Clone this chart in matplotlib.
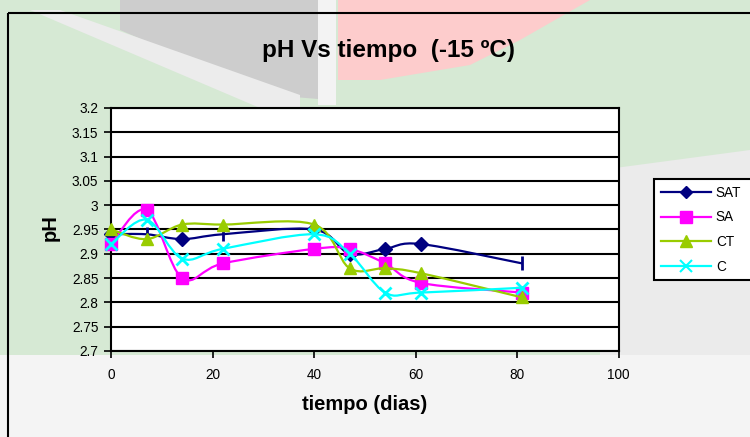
import matplotlib.pyplot as plt
import numpy as np
from matplotlib.path import Path
from matplotlib.patches import PathPatch, Rectangle, Polygon
from matplotlib.lines import Line2D

plt.rcParams['font.family'] = ['Liberation Sans', 'DejaVu Sans']

# days of storage
dias = [0, 7, 14, 22, 40, 47, 54, 61, 81]

# pH per treatment
ph_sat = [2.94, 2.94, 2.93, 2.94, 2.95, 2.90, 2.91, 2.92, 2.88]
ph_sa = [2.92, 2.99, 2.85, 2.88, 2.91, 2.91, 2.88, 2.84, 2.82]
ph_ct = [2.95, 2.93, 2.96, 2.96, 2.96, 2.87, 2.87, 2.86, 2.81]
ph_c = [2.92, 2.97, 2.89, 2.91, 2.94, 2.90, 2.82, 2.82, 2.83]

series_names = ['SAT', 'SA', 'CT', 'C']
y_ticks = [2.7, 2.75, 2.8, 2.85, 2.9, 2.95, 3.0, 3.05, 3.1, 3.15, 3.2]
y_tick_labels = ['2.7', '2.75', '2.8', '2.85', '2.9', '2.95', '3', '3.05', '3.1', '3.15', '3.2']
x_ticks = [0, 20, 40, 60, 80, 100]


def smooth_path(x, y):
    """Excel-like smoothed line: cubic bezier through every point"""
    pts = np.column_stack([x, y]).astype(float)
    n = len(pts)
    verts = [pts[0]]
    codes = [Path.MOVETO]
    for i in range(n - 1):
        p0 = pts[i - 1] if i > 0 else pts[i]
        p1 = pts[i]
        p2 = pts[i + 1]
        p3 = pts[i + 2] if i + 2 < n else pts[i + 1]
        c1 = p1 + (p2 - p0) / 6.0
        c2 = p2 - (p3 - p1) / 6.0
        verts += [c1, c2, p2]
        codes += [Path.CURVE4] * 3
    return Path(verts, codes)


def draw_background(fig):
    """Faded picture behind the chart (rough approximation)"""
    bg = fig.add_axes([0, 0, 1, 1], zorder=-5)
    bg.set_xlim(0, 750)
    bg.set_ylim(437, 0)
    bg.axis('off')
    bg.add_patch(Rectangle((0, 0), 750, 437, color='#f1f1f1', lw=0))
    bg.add_patch(Rectangle((0, 0), 750, 360, color='#d6e9d4', lw=0))
    bg.add_patch(Polygon([(120, 0), (330, 0), (330, 100), (270, 95), (120, 30)],
                         color='#cdcdcd', lw=0))
    bg.add_patch(Polygon([(30, 10), (60, 10), (300, 95), (300, 108), (260, 108)],
                         color='#ececec', lw=0))
    bg.add_patch(Rectangle((318, 0), 18, 105, color='#f3f3f3', lw=0))
    bg.add_patch(Polygon([(338, 0), (590, 0), (520, 40), (470, 65), (380, 80), (338, 80)],
                         color='#fdcccc', lw=0))
    bg.add_patch(Polygon([(600, 170), (750, 150), (750, 437), (600, 437)],
                         color='#ebebeb', lw=0))
    bg.add_patch(Rectangle((0, 355), 750, 82, color='#f4f4f4', lw=0))
    bg.add_patch(Rectangle((8, 13), 800, 500, fill=False, ec='black', lw=1.5))


def main():
    fig = plt.figure(figsize=(7.5, 4.37), dpi=100)
    draw_background(fig)

    ax = fig.add_axes([0.148, 0.197, 0.677, 0.556])
    ax.set_facecolor('white')

    colors = ['#000080', '#ff00ff', '#99cc00', '#00ffff']
    markers = ['D', 's', '^', 'x']
    sizes = [7, 9, 9, 9]
    data = [ph_sat, ph_sa, ph_ct, ph_c]

    handles = []
    for k, (vals, col, mk, ms) in enumerate(zip(data, colors, markers, sizes)):
        z = 3 + k
        ax.add_patch(PathPatch(smooth_path(dias, vals), fc='none', ec=col,
                               lw=1.6, zorder=z, clip_on=False))
        if k == 0:
            # some SAT markers show up only as vertical bars
            idx_d = [0, 2, 4, 5, 6, 7]
            idx_b = [1, 3, 8]
            ax.plot([dias[i] for i in idx_d], [vals[i] for i in idx_d], ls='none',
                    marker='D', ms=ms, color=col, zorder=z, clip_on=False)
            ax.plot([dias[i] for i in idx_b], [vals[i] for i in idx_b], ls='none',
                    marker='|', ms=10, mew=2, color=col, zorder=z, clip_on=False)
        else:
            ax.plot(dias, vals, ls='none', marker=mk, ms=ms, mew=2 if mk == 'x' else 1,
                    color=col, zorder=z, clip_on=False)
        handles.append(Line2D([], [], color=col, lw=1.6, marker=mk,
                              ms=ms - 1, mew=1.5 if mk == 'x' else 1))

    ax.set_xlim(0, 100)
    ax.set_ylim(2.7, 3.2)
    ax.set_xticks(x_ticks)
    ax.set_yticks(y_ticks)
    ax.set_yticklabels(y_tick_labels)
    ax.tick_params(axis='both', direction='out', length=5, width=1.2,
                   labelsize=9.8, color='black')
    ax.tick_params(axis='x', pad=7)
    ax.tick_params(axis='y', pad=4)
    ax.yaxis.grid(True, color='black', lw=1.5)
    ax.set_axisbelow(True)
    for sp in ax.spines.values():
        sp.set_linewidth(1.5)
        sp.set_color('black')

    fig.text(388 / 750, 1 - 50 / 437, 'pH Vs tiempo  (-15 ºC)', ha='center', va='center',
             fontsize=17.5, fontweight='bold')
    fig.text(365 / 750, 1 - 405 / 437, 'tiempo (dias)', ha='center', va='center',
             fontsize=14.5, fontweight='bold')
    fig.text(50 / 750, 1 - 228 / 437, 'pH', ha='center', va='center', rotation=90,
             fontsize=14.5, fontweight='bold')

    # legend box runs past the right edge of the picture
    leg_top = 1 - 179 / 437
    leg_h = 101 / 437
    leg = fig.legend(handles, series_names, loc='upper left',
                     bbox_to_anchor=(654 / 750, leg_top - leg_h, 0.3, leg_h),
                     bbox_transform=fig.transFigure, mode='expand', fontsize=9.8,
                     handlelength=3.7, handletextpad=0.35, labelspacing=0.78,
                     borderpad=0.5, borderaxespad=0, fancybox=False,
                     framealpha=1, edgecolor='black')
    leg.get_frame().set_linewidth(1.5)

    plt.savefig('out.png', dpi=100)
    plt.close()


if __name__ == "__main__":
    main()
